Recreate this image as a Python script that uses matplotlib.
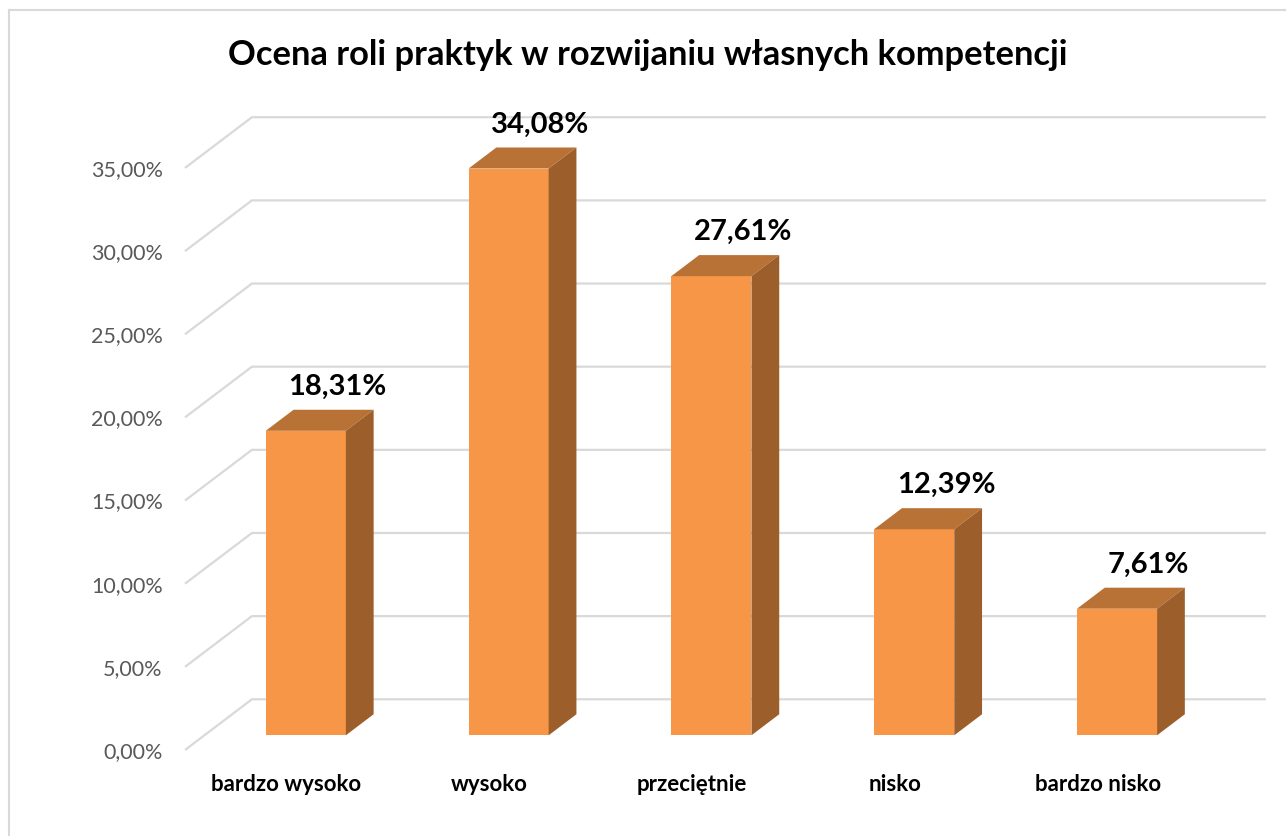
import matplotlib
matplotlib.use("Agg")
import matplotlib.pyplot as plt
from matplotlib.lines import Line2D

plt.rcParams['font.family'] = ['Lato', 'DejaVu Sans']

# ---- data ----
categories = ["bardzo wysoko", "wysoko", "przeciętnie", "nisko", "bardzo nisko"]
values = [18.31, 34.08, 27.61, 12.39, 7.61]
yticks = [0, 5, 10, 15, 20, 25, 30, 35]
title = "Ocena roli praktyk w rozwijaniu własnych kompetencji"

# ---- style ----
FRONT = "#F79646"
TOP = "#B97235"
SIDE = "#9C5E2B"
GRID = "#D9D9D9"
DX, DY = 0.33, 3.05      # depth offset in data units (full depth)
D0, D1 = 0.29, 0.705     # bar front / back depth
HW = 0.1975              # bar half width

W, H = 1286, 836
fig = plt.figure(figsize=(W / 100, H / 100), dpi=100)
left_px, right_px, bottom_px, top_px = 185, 185 + (5 + DX) * 202.8, 750, 750 - (35 + DY) * 16.63
ax = fig.add_axes([left_px / W, 1 - bottom_px / H, (right_px - left_px) / W, (bottom_px - top_px) / H])
ax.set_xlim(-0.5, len(categories) - 0.5 + DX)
ax.set_ylim(0, max(yticks) + DY)
ax.patch.set_alpha(0)
for s in ax.spines.values():
    s.set_visible(False)

# gridlines (side wall diagonal + back wall horizontal)
x0 = -0.5
x1 = len(categories) - 0.5 + DX
for v in yticks:
    ax.plot([x0, x0 + DX, x1], [v, v + DY, v + DY], color=GRID, lw=1.6, zorder=1,
            solid_capstyle='butt', clip_on=False)

# bars
for i, v in enumerate(values):
    fl, fr = i - HW + DX * D0, i + HW + DX * D0
    fb, ft = DY * D0, v + DY * D0
    bl, br = i - HW + DX * D1, i + HW + DX * D1
    bb, bt = DY * D1, v + DY * D1
    ax.fill([fl, fr, fr, fl], [fb, fb, ft, ft], color=FRONT, zorder=3, lw=0)
    ax.fill([fl, fr, br, bl], [ft, ft, bt, bt], color=TOP, zorder=3, lw=0)
    ax.fill([fr, br, br, fr], [fb, bb, bt, ft], color=SIDE, zorder=3, lw=0)
    cx = (bl + br) / 2
    ax.annotate(f"{v:.2f}%".replace(".", ","), (cx, bt), xytext=(4, 15),
                textcoords='offset pixels', ha='center', va='baseline',
                fontsize=21, fontweight='bold', color='black', zorder=5)

ax.set_yticks(yticks)
ax.set_yticklabels([f"{t:.2f}%".replace(".", ",") for t in yticks], fontsize=15.5, color="#595959")
ax.set_xticks(range(len(categories)))
ax.set_xticklabels(categories, fontsize=16, fontweight='bold', color='black')
ax.tick_params(axis='y', length=0, pad=16)
ax.tick_params(axis='x', length=0, pad=17)

fig.text(648 / W, 1 - 55 / H, title, ha='center', va='center', fontsize=24.8,
         fontweight='bold', color='black')

# chart area border (top and left visible)
fig.add_artist(Line2D([9 / W, 9 / W], [1 - 10 / H, 0], color=GRID, lw=1.5, transform=fig.transFigure))
fig.add_artist(Line2D([9 / W, 1], [1 - 10 / H, 1 - 10 / H], color=GRID, lw=1.5, transform=fig.transFigure))

fig.savefig("out.png", dpi=100)
